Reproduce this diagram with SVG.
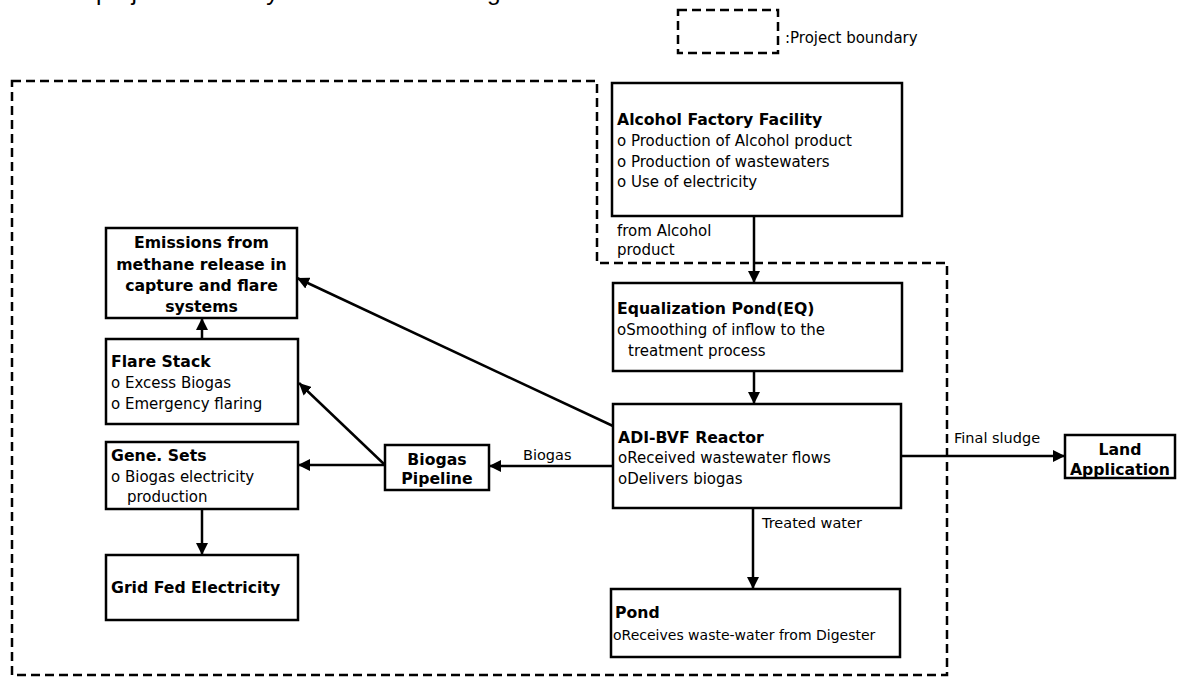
<svg xmlns="http://www.w3.org/2000/svg" width="1183" height="679" viewBox="0 0 1183 679">
<defs>
<marker id="ah" markerUnits="userSpaceOnUse" markerWidth="13" markerHeight="12" refX="12" refY="6" orient="auto">
<path d="M0,0 L12,6 L0,12 Z" fill="#000"/>
</marker>
<style>
.box{fill:#fff;stroke:#000;stroke-width:2.5}
.bnd{fill:none;stroke:#000;stroke-width:2.5;stroke-dasharray:9,5}
.con{fill:none;stroke:#000;stroke-width:2.5;marker-end:url(#ah)}
.t{font-family:"DejaVu Sans",sans-serif;font-size:15px;fill:#000}
.b{font-family:"DejaVu Sans",sans-serif;font-size:15.7px;font-weight:bold;fill:#000}
.l{font-family:"DejaVu Sans",sans-serif;font-size:14.5px;fill:#000}
.c{text-anchor:middle}
</style>
</defs>
<rect width="1183" height="679" fill="#fff"/>
<text x="47" y="0" style="font-family:'Liberation Sans',sans-serif;font-size:24.5px">The project boundary is shown in the diagram below.</text>
<g id="legend">
<rect class="bnd" x="678" y="10" width="100" height="43"/>
<text class="t" x="785" y="43">:Project boundary</text>
</g>
<g id="boundary">
<path class="bnd" d="M12,81 H597 V263 H947 V675 H12 Z"/>
</g>
<g id="connectors">
<path class="con" d="M754,216 V283"/>
<path class="con" d="M754,371 V404"/>
<path class="con" d="M753,508 V589"/>
<path class="con" d="M901,456 H1065"/>
<path class="con" d="M613,466 H489"/>
<path class="con" d="M385,465 H298"/>
<path class="con" d="M385,465 L299,383"/>
<path class="con" d="M613,426 L297,278"/>
<path class="con" d="M202,339 V318"/>
<path class="con" d="M202,509 V555"/>
<text class="t" x="617" y="236">from Alcohol</text>
<text class="t" x="617" y="255">product</text>
<text class="l" x="523" y="460">Biogas</text>
<text class="l" x="954" y="443">Final sludge</text>
<text class="l" x="762" y="528">Treated water</text>
</g>
<g id="alcohol">
<rect class="box" x="612" y="83" width="290" height="133"/>
<text class="b" x="617" y="125">Alcohol Factory Facility</text>
<text class="t" x="617" y="146">o Production of Alcohol product</text>
<text class="t" x="617" y="167">o Production of wastewaters</text>
<text class="t" x="617" y="187">o Use of electricity</text>
</g>
<g id="eq">
<rect class="box" x="613" y="283" width="289" height="88"/>
<text class="b" x="617" y="314">Equalization Pond(EQ)</text>
<text class="t" x="617" y="335">oSmoothing of inflow to the</text>
<text class="t" x="628" y="356">treatment process</text>
</g>
<g id="adi">
<rect class="box" x="613" y="404" width="288" height="104"/>
<text class="b" x="618" y="443">ADI-BVF Reactor</text>
<text class="t" x="618" y="463">oReceived wastewater flows</text>
<text class="t" x="618" y="484">oDelivers biogas</text>
</g>
<g id="land">
<rect class="box" x="1065" y="435" width="110" height="43"/>
<text class="b c" x="1120" y="455">Land</text>
<text class="b c" x="1120" y="475">Application</text>
</g>
<g id="pond">
<rect class="box" x="611" y="589" width="289" height="68"/>
<text class="b" x="615" y="618">Pond</text>
<text class="t" x="613" y="640" style="font-size:14px">oReceives waste-water from Digester</text>
</g>
<g id="pipeline">
<rect class="box" x="385" y="445" width="104" height="45"/>
<text class="b c" x="437" y="465">Biogas</text>
<text class="b c" x="437" y="484">Pipeline</text>
</g>
<g id="emissions">
<rect class="box" x="106" y="228" width="191" height="90"/>
<text class="b c" x="201.5" y="248">Emissions from</text>
<text class="b c" x="201.5" y="270">methane release in</text>
<text class="b c" x="201.5" y="291">capture and flare</text>
<text class="b c" x="201.5" y="312">systems</text>
</g>
<g id="flare">
<rect class="box" x="106" y="339" width="192" height="85"/>
<text class="b" x="111" y="367">Flare Stack</text>
<text class="t" x="111" y="388">o Excess Biogas</text>
<text class="t" x="111" y="409">o Emergency flaring</text>
</g>
<g id="gene">
<rect class="box" x="106" y="442" width="192" height="67"/>
<text class="b" x="111" y="461">Gene. Sets</text>
<text class="t" x="111" y="482">o Biogas electricity</text>
<text class="t" x="127" y="502">production</text>
</g>
<g id="grid">
<rect class="box" x="106" y="555" width="192" height="65"/>
<text class="b" x="111" y="593">Grid Fed Electricity</text>
</g>
</svg>
